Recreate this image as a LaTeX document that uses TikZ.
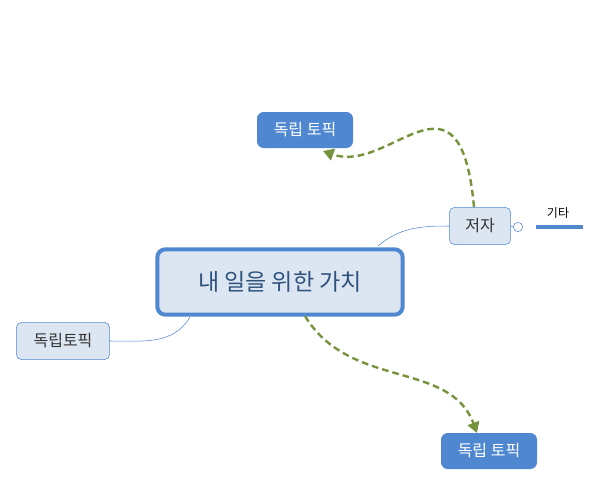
\documentclass[tikz,border=0pt]{standalone}
\usepackage{fontspec}
\setmainfont{Noto Sans CJK KR}
\usetikzlibrary{arrows.meta, positioning}
\definecolor{topicblue}{HTML}{4F88D0}
\definecolor{paleblue}{HTML}{DCE6F2}
\definecolor{linkgreen}{HTML}{76923C}
\tikzstyle{central} = [rectangle, rounded corners=6pt, draw=topicblue, line width=3pt, fill=paleblue, minimum width=184pt, minimum height=49pt, text=topicblue!60!black, font=\LARGE]
\tikzstyle{sub} = [rectangle, rounded corners=4pt, draw=topicblue, fill=paleblue, minimum width=46pt, minimum height=28pt, text=black!80, font=\large]
\tikzstyle{free} = [rectangle, rounded corners=5pt, fill=topicblue, minimum width=72pt, minimum height=27pt, text=white, font=\large]
\tikzstyle{branch} = [topicblue, thin]
\tikzstyle{relation} = [linkgreen, line width=1.8pt, dash pattern=on 5pt off 3pt, -{Triangle[length=8pt,width=9pt]}]
\begin{document}
\begin{tikzpicture}[x=0.75pt, y=-0.75pt]
	\useasboundingbox (0,0) rectangle (602,486);
	\node (value) [central] at (280,282) {내 일을 위한 가치};
	\node (author) [sub] at (480,226) {저자};
	\node (lefttopic) [sub, minimum width=70pt] at (63,341) {독립토픽};
	\node (toptopic) [free] at (305,130) {독립 토픽};
	\node (bottomtopic) [free] at (489,451) {독립 토픽};
	\node (fold) [circle, draw=topicblue, fill=white, inner sep=0pt, minimum size=7pt] at (518,227) {};
	\coordinate (etcstart) at (536,227);
	\coordinate (etcend) at (583,227);
	\node (etc) [font=\small, inner sep=1pt] at (558,213) {기타};
	\coordinate (valuetop) at (378,246);
	\coordinate (valuebottom) at (190,317);
	\coordinate (authortop) at (474,207);
	\coordinate (valuelow) at (305,316);
	\coordinate (toptip) at (323,151);
	\coordinate (bottomtip) at (477,433);
	\draw [branch] (valuetop) to[out=40, in=180] (author.west);
	\draw [branch] (valuebottom) to[out=-120, in=0] (lefttopic.east);
	\draw [branch] (author.east) -- (fold.west);
	\draw [topicblue, line width=2.5pt] (etcstart) -- (etcend);
	\draw [relation] (authortop) .. controls (460,55) and (390,175) .. (toptip);
	\draw [relation] (valuelow) .. controls (350,390) and (450,360) .. (bottomtip);
\end{tikzpicture}
\end{document}
